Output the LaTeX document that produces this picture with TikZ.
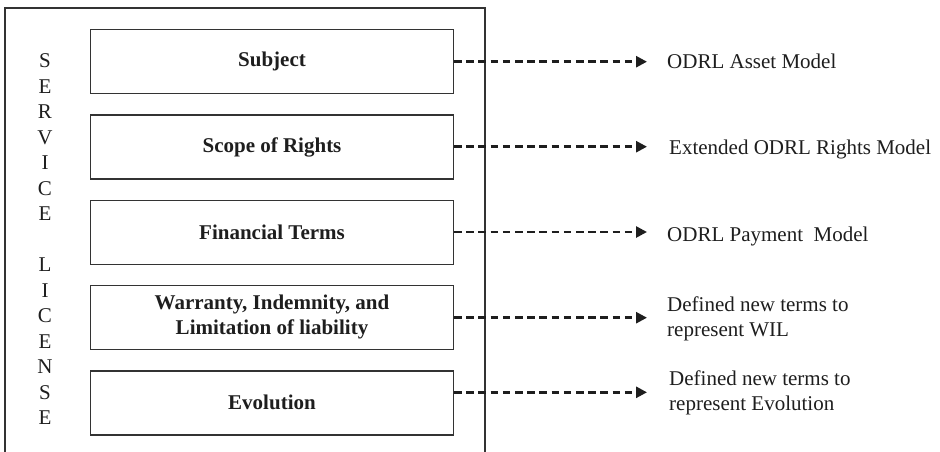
\documentclass[tikz,border=0pt]{standalone}
\usepackage{fontspec}
\setmainfont{Liberation Serif}
\usetikzlibrary{arrows.meta}
\definecolor{linec}{HTML}{333333}
\definecolor{textc}{HTML}{1E1E1E}
\begin{document}
\begin{tikzpicture}[x=1pt,y=-1pt,
  every node/.style={text=textc,font=\fontsize{21}{25.5}\selectfont},
  termbox/.style={draw=linec,line width=1.4pt,minimum width=362.6pt,minimum height=64pt,inner sep=0pt,align=center,font=\fontsize{21}{25}\selectfont\bfseries},
  maparrow/.style={draw=textc,line width=2.6pt,dash pattern=on 7.5pt off 4.7pt,-{Triangle[length=11pt,width=11pt]}},
  modeltext/.style={anchor=west,inner sep=0pt,align=left}]
\useasboundingbox (0,0) rectangle (940,451);
\fill[white] (0,0) rectangle (940,451);
% outer frame
\draw[linec,line width=1.1pt] (5,455) -- (5,8) -- (485,8) -- (485,455);
% side text
\node[inner sep=0pt,align=center] (side) at (45,239.5)
  {S\\E\\R\\V\\I\\C\\E\\\mbox{}\\L\\I\\C\\E\\N\\S\\E};
% boxes
\node[termbox] (subj) at (272,61.3) {Subject};
\node[termbox] (scope) at (272,147) {Scope of Rights};
\node[termbox] (fin) at (272,232.3) {Financial Terms};
\node[termbox] (wil) at (272,317.3) {Warranty, Indemnity, and\\Limitation of liability};
\node[termbox] (evo) at (272,402.8) {Evolution};
% arrow ends
\coordinate (e1) at (647,61.7);
\coordinate (e2) at (647,146.7);
\coordinate (e3) at (647,232);
\coordinate (e4) at (647,317.7);
\coordinate (e5) at (647,392.3);
\draw[maparrow] (subj.east |- e1) -- (e1);
\draw[maparrow] (scope.east |- e2) -- (e2);
\draw[maparrow] (fin.east |- e3) -- (e3);
\draw[maparrow] (wil.east |- e4) -- (e4);
\draw[maparrow] (evo.east |- e5) -- (e5);
% labels
\node[modeltext] (l1) at (667,61.5) {ODRL Asset Model};
\node[modeltext] (l2) at (669,149.5) {Extended ODRL Rights Model};
\node[modeltext] (l3) at (667,236) {ODRL Payment\ \ Model};
\node[modeltext] (l4) at (667,319) {Defined new terms to\\represent WIL};
\node[modeltext] (l5) at (669,393) {Defined new terms to\\represent Evolution};
\end{tikzpicture}
\end{document}
